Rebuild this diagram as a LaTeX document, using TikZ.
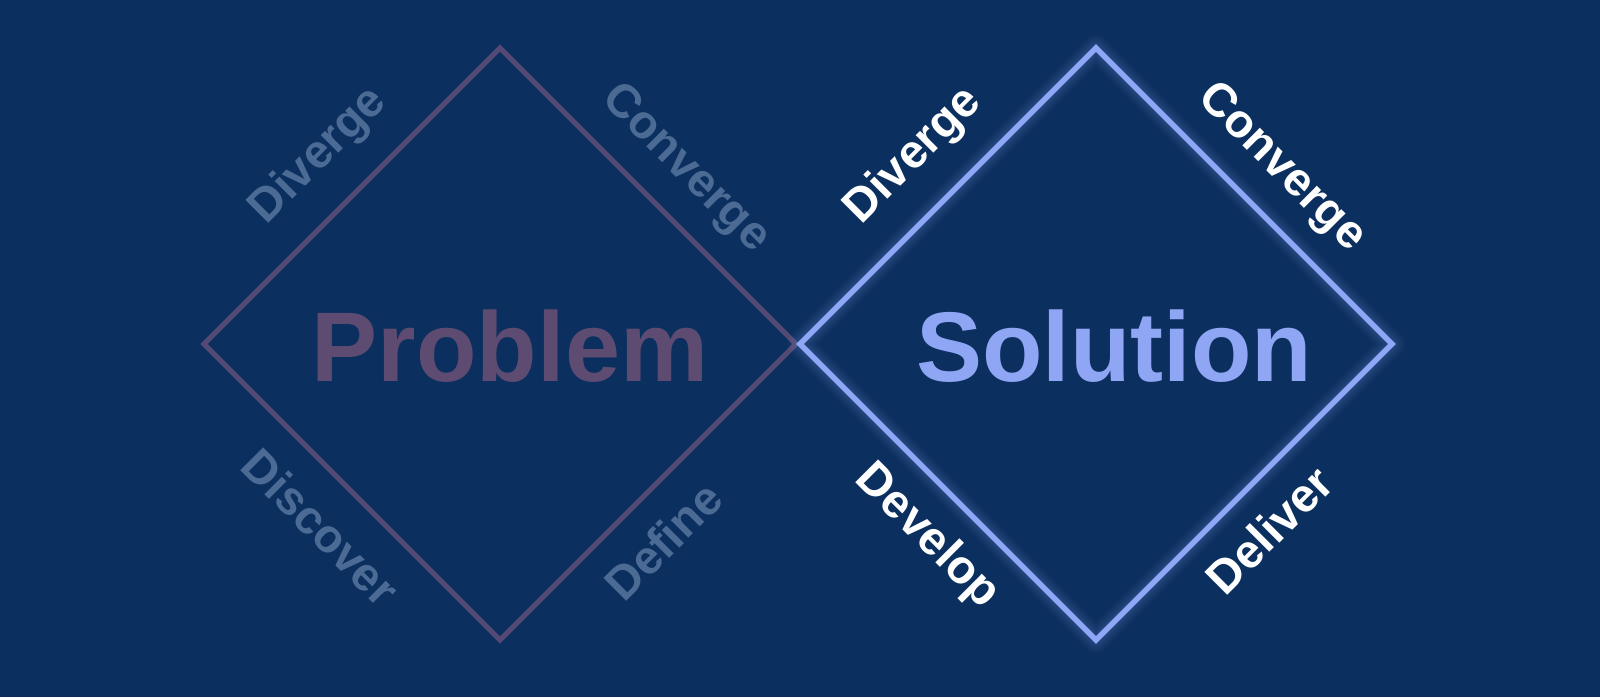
\documentclass[tikz,border=0pt]{standalone}
\usepackage{fontspec}
\setmainfont{Liberation Sans}
\definecolor{bgnavy}{HTML}{0B2F5E}
\definecolor{leftline}{HTML}{544973}
\definecolor{problemtxt}{HTML}{5E4B72}
\definecolor{leftlabel}{HTML}{4B6B94}
\definecolor{rightline}{HTML}{8EA7F6}
\definecolor{solutiontxt}{HTML}{8EA6F4}
\tikzset{
  bigword/.style={font=\fontsize{99}{99}\selectfont\bfseries, inner sep=0pt, anchor=base},
  phase/.style={font=\fontsize{47}{47}\selectfont\bfseries, inner sep=0pt},
  dimphase/.style={phase, text=leftlabel},
  brightphase/.style={phase, text=white},
  dimdiamond/.style={draw=leftline, line width=5pt},
  brightdiamond/.style={draw=rightline, line width=5.5pt},
  glowline/.style={draw=rightline, line width=#1, opacity=0.03, line join=round},
}
\begin{document}
\begin{tikzpicture}[x=1pt,y=-1pt]
\fill[bgnavy] (0,0) rectangle (1600,697);
\useasboundingbox (0,0) rectangle (1600,697);
% left diamond vertices
\coordinate (LL) at (204,344);
\coordinate (LT) at (500,48);
\coordinate (LR) at (796,344);
\coordinate (LB) at (500,640);
% right diamond vertices
\coordinate (RL) at (800,344);
\coordinate (RT) at (1096,48);
\coordinate (RR) at (1392,344);
\coordinate (RB) at (1096,640);
% left diamond
\draw[dimdiamond] (LL) -- (LT) -- (LR) -- (LB) -- cycle;
% right diamond with soft glow
\foreach \w in {26,23,20,17,14,11,9} {
  \draw[glowline=\w pt] (RL) -- (RT) -- (RR) -- (RB) -- cycle;
}
\draw[brightdiamond] (RL) -- (RT) -- (RR) -- (RB) -- cycle;
% big words
\node[bigword, text=problemtxt] (problem) at (510,381) {Problem};
\node[bigword, text=solutiontxt] (solution) at (1114,381) {Solution};
% left labels
\node[dimphase, rotate=45] (ldiverge) at (319,156) {Diverge};
\node[dimphase, rotate=-45] (lconverge) at (685,169) {Converge};
\node[dimphase, rotate=-45] (ldiscover) at (321,527) {Discover};
\node[dimphase, rotate=45] (ldefine) at (663,541) {Define};
% right labels
\node[brightphase, rotate=45] (rdiverge) at (914,156) {Diverge};
\node[brightphase, rotate=-45] (rconverge) at (1281,168) {Converge};
\node[brightphase, rotate=-45] (rdevelop) at (927,537) {Develop};
\node[brightphase, rotate=45] (rdeliver) at (1269,530) {Deliver};
\end{tikzpicture}
\end{document}
